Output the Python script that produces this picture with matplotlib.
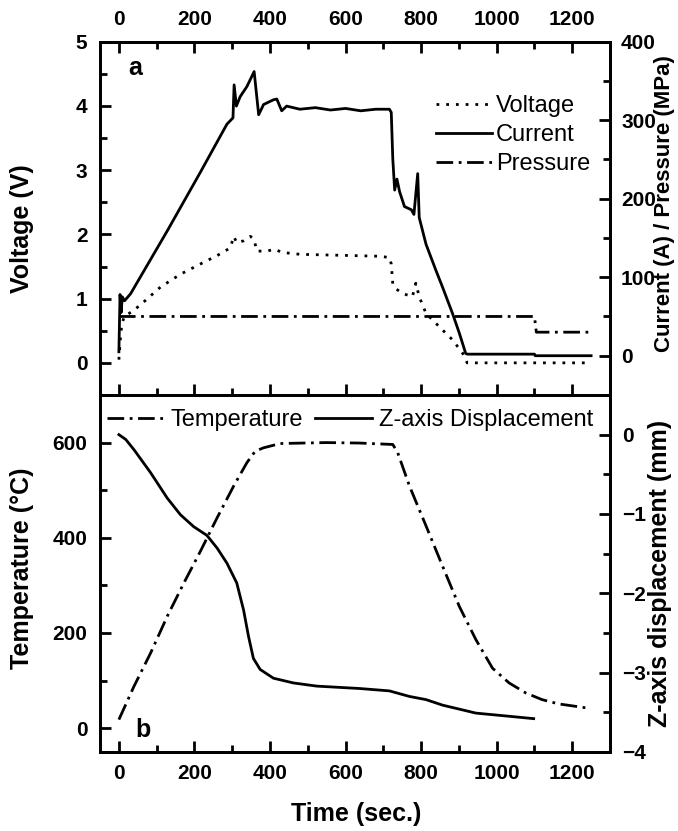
"""
Sintering run record: electrical signals (a) and thermal / densification response (b).
"""

import matplotlib.pyplot as plt
from matplotlib.ticker import MultipleLocator

plt.rcParams["font.family"] = ["Liberation Sans", "DejaVu Sans"]

# ── Panel a: electrical signals ──────────────────────────────────────────────
t_voltage = [0, 3, 5, 8, 14, 40, 66, 110, 163, 216, 260, 295, 304, 312, 330,
             348, 358, 365, 392, 413, 431, 479, 550, 620, 690, 716, 721, 725,
             734, 751, 777, 786, 795, 813, 830, 857, 883, 910, 922, 1250]
voltage = [0.05, 0.30, 0.46, 0.60, 0.72, 0.82, 0.95, 1.18, 1.38, 1.54, 1.67,
           1.79, 1.97, 1.87, 1.90, 1.97, 1.92, 1.74, 1.74, 1.77, 1.72, 1.69,
           1.68, 1.67, 1.66, 1.64, 1.54, 1.23, 1.15, 1.08, 1.03, 1.24, 1.03,
           0.77, 0.67, 0.51, 0.36, 0.15, 0.0, 0.0]

t_current = [0, 3, 6, 9, 15, 31, 128, 216, 286, 302, 305, 311, 321, 339, 358,
             370, 383, 409, 418, 431, 444, 479, 520, 560, 600, 640, 680, 716,
             721, 725, 730, 736, 743, 756, 774, 781, 791, 795, 813, 839, 857,
             883, 901, 918, 922, 1100, 1102, 1250]
current = [5, 78, 55, 75, 70, 79, 159, 234, 295, 303, 345, 318, 330, 343, 362,
           307, 320, 326, 327, 312, 318, 314, 316, 313, 315, 312, 314, 314,
           310, 251, 211, 225, 209, 190, 186, 180, 232, 176, 142, 109, 87,
           54, 29, 3, 2, 2, 0, 0]

t_pressure = [0, 1100, 1105, 1250]
pressure = [50, 50, 30, 30]

# ── Panel b: temperature and ram displacement ────────────────────────────────
t_temp = [0, 40, 84, 128, 172, 216, 260, 304, 339, 361, 383, 427, 550, 637,
          725, 738, 769, 813, 857, 901, 945, 989, 1033, 1077, 1120, 1164, 1243]
temp = [18, 88, 158, 235, 305, 372, 442, 509, 558, 582, 589, 598, 600, 599,
        596, 579, 509, 425, 340, 256, 186, 126, 95, 74, 60, 51, 42]

t_disp = [0, 18, 40, 84, 128, 163, 198, 233, 260, 286, 312, 330, 343, 356,
          374, 409, 462, 524, 637, 716, 769, 813, 857, 901, 945, 989, 1033, 1098]
disp = [0, -0.06, -0.19, -0.48, -0.80, -1.01, -1.16, -1.27, -1.43, -1.62,
        -1.87, -2.21, -2.54, -2.82, -2.96, -3.07, -3.13, -3.17, -3.20, -3.23,
        -3.30, -3.34, -3.41, -3.46, -3.51, -3.53, -3.55, -3.58]

TICK_FS = 15
LABEL_FS = 18
LEGEND_FS = 17
LW = 2.0
DASHDOT = (0, (6, 2, 1, 2))
DOTTED = (0, (1, 2.5))


def style_axis(ax):
    ax.tick_params(which="both", direction="in", width=2, labelsize=TICK_FS, pad=9)
    ax.tick_params(which="major", length=8)
    ax.tick_params(which="minor", length=5)
    for sp in ax.spines.values():
        sp.set_linewidth(2)
    for lab in ax.get_xticklabels() + ax.get_yticklabels():
        lab.set_fontweight("bold")


fig = plt.figure(figsize=(6.78, 8.31), dpi=100)
ax1 = fig.add_axes([0.1475, 0.5247, 0.7522, 0.4251])
ax1r = ax1.twinx()
ax2 = fig.add_axes([0.1475, 0.0951, 0.7522, 0.4296])
ax2r = ax2.twinx()

# panel a
l_v, = ax1.plot(t_voltage, voltage, color="black", lw=LW, ls=DOTTED, label="Voltage")
l_c, = ax1r.plot(t_current, current, color="black", lw=LW, label="Current")
l_p, = ax1r.plot(t_pressure, pressure, color="black", lw=LW, ls=DASHDOT, label="Pressure")

ax1.set_xlim(-50, 1300)
ax1.set_ylim(-0.5, 5)
ax1r.set_ylim(-50, 400)
ax1.xaxis.set_major_locator(MultipleLocator(200))
ax1.xaxis.set_minor_locator(MultipleLocator(100))
ax1.yaxis.set_major_locator(MultipleLocator(1))
ax1.yaxis.set_minor_locator(MultipleLocator(0.5))
ax1r.yaxis.set_major_locator(MultipleLocator(100))
ax1r.yaxis.set_minor_locator(MultipleLocator(50))
ax1.tick_params(axis="x", which="both", top=True, bottom=True,
                labeltop=True, labelbottom=False)
style_axis(ax1)
style_axis(ax1r)
ax1r.tick_params(axis="y", pad=8)

ax1.set_ylabel("Voltage (V)", fontsize=LABEL_FS, fontweight="bold")
ax1.yaxis.set_label_coords(-0.129, 0.472)
ax1r.set_ylabel("Current (A) / Pressure (MPa)", fontsize=16, fontweight="bold")
ax1r.yaxis.set_label_coords(1.087, 0.542)
ax1.text(0.055, 0.906, "a", transform=ax1.transAxes, fontsize=LABEL_FS,
         fontweight="bold", ha="left", va="baseline")

ax1r.legend([l_v, l_c, l_p], ["Voltage", "Current", "Pressure"],
            loc="upper right", bbox_to_anchor=(0.961, 0.849), frameon=False,
            fontsize=LEGEND_FS, handlelength=2.4, handletextpad=0.15,
            labelspacing=0.3, borderpad=0, borderaxespad=0)

# panel b
l_t, = ax2.plot(t_temp, temp, color="black", lw=LW, ls=DASHDOT, label="Temperature")
l_z, = ax2r.plot(t_disp, disp, color="black", lw=LW, label="Z-axis Displacement")

ax2.set_xlim(-50, 1300)
ax2.set_ylim(-50, 700)
ax2r.set_ylim(-4, 0.5)
ax2.xaxis.set_major_locator(MultipleLocator(200))
ax2.xaxis.set_minor_locator(MultipleLocator(100))
ax2.yaxis.set_major_locator(MultipleLocator(200))
ax2.yaxis.set_minor_locator(MultipleLocator(100))
ax2r.yaxis.set_major_locator(MultipleLocator(1))
ax2r.yaxis.set_minor_locator(MultipleLocator(0.5))
ax2.tick_params(axis="x", which="both", top=False, bottom=True)
style_axis(ax2)
style_axis(ax2r)

ax2.set_xlabel("Time (sec.)", fontsize=LABEL_FS, fontweight="bold")
ax2.xaxis.set_label_coords(0.502, -0.14)
ax2.set_ylabel("Temperature (°C)", fontsize=LABEL_FS, fontweight="bold")
ax2.yaxis.set_label_coords(-0.129, 0.515)
ax2r.set_ylabel("Z-axis displacement (mm)", fontsize=LABEL_FS, fontweight="bold")
ax2r.yaxis.set_label_coords(1.075, 0.499)
ax2.text(0.069, 0.042, "b", transform=ax2.transAxes, fontsize=LABEL_FS,
         fontweight="bold", ha="left", va="baseline")

ax2r.legend([l_t, l_z], ["Temperature", "Z-axis Displacement"],
            loc="upper left", bbox_to_anchor=(0.014, 0.96), frameon=False,
            ncol=2, fontsize=LEGEND_FS, handlelength=2.4, handletextpad=0.3,
            columnspacing=0.5, borderpad=0, borderaxespad=0)

fig.savefig("out.png", dpi=100)
